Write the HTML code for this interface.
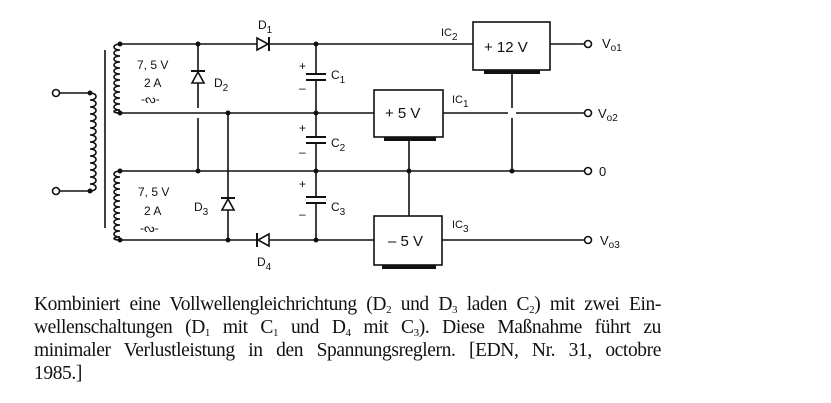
<!DOCTYPE html>
<html><head><meta charset="utf-8"><style>
body{margin:0;background:#fff;width:831px;height:403px;overflow:hidden;position:relative}
svg{position:absolute;left:0;top:0}
.t{font-family:"Liberation Sans",sans-serif;fill:#111}
#cap{position:absolute;left:34px;top:293px;width:627px;font-family:"Liberation Serif",serif;font-size:19.5px;line-height:23px;color:#111;letter-spacing:-0.4px}
#cap div{text-align:justify;text-align-last:justify;white-space:nowrap}
#cap div.l{text-align-last:left}
sub{font-size:11px;vertical-align:-3px;line-height:0}
</style></head><body>
<svg width="831" height="403" viewBox="0 0 831 403">
<g stroke="#111" stroke-width="1.6" fill="none">
<circle cx="56" cy="93" r="3.5"/><circle cx="56" cy="191" r="3.5"/>
<path d="M60 93H90M60 191H90"/>
<path d="M90 93 c8 0 8 7 0 7 c8 0 8 7 0 7 c8 0 8 7 0 7 c8 0 8 7 0 7 c8 0 8 7 0 7 c8 0 8 7 0 7 c8 0 8 7 0 7 c8 0 8 7 0 7 c8 0 8 7 0 7 c8 0 8 7 0 7 c8 0 8 7 0 7 c8 0 8 7 0 7 c8 0 8 7 0 7 c8 0 8 7 0 7"/>
<path d="M105 50V228"/>
<path d="M120 44 c-8 0 -8 6 0 6 c-8 0 -8 6 0 6 c-8 0 -8 6 0 6 c-8 0 -8 6 0 6 c-8 0 -8 6 0 6 c-8 0 -8 6 0 6 c-8 0 -8 6 0 6 c-8 0 -8 6 0 6 c-8 0 -8 6 0 6 c-8 0 -8 6 0 6 c-8 0 -8 6 0 6 c-8 0 -8 3 0 3"/>
<path d="M120 171 c-8 0 -8 6 0 6 c-8 0 -8 6 0 6 c-8 0 -8 6 0 6 c-8 0 -8 6 0 6 c-8 0 -8 6 0 6 c-8 0 -8 6 0 6 c-8 0 -8 6 0 6 c-8 0 -8 6 0 6 c-8 0 -8 6 0 6 c-8 0 -8 6 0 6 c-8 0 -8 6 0 6 c-8 0 -8 3 0 3"/>
<path d="M120 44H258M268 44H473"/>
<path d="M120 113H374M443 113H508M516 113H584"/>
<path d="M120 171H584"/>
<path d="M120 240H258M268 240H374M442 240H584"/>
<path d="M550 44H584"/>
<path d="M198 44V108M198 118V171"/>
<path d="M228 113V240"/>
<path d="M316 44V74M316 80V137M316 143V197M316 203V240"/>
<path d="M306 74H326M306 80H326M306 137H326M306 143H326M306 197H326M306 203H326" stroke-width="2"/>
<rect x="473" y="22" width="77" height="48"/>
<rect x="374" y="90" width="69" height="47"/>
<rect x="374" y="216" width="68" height="49"/>
<path d="M512 74V108M512 118V171"/>
<path d="M409 140V216"/>
<circle cx="588" cy="44" r="3.5"/><circle cx="588" cy="113" r="3.5"/><circle cx="588" cy="171" r="3.5"/><circle cx="588" cy="240" r="3.5"/>
</g>
<g fill="#111">
<rect x="484" y="70" width="56" height="4"/>
<rect x="384" y="137" width="52" height="4"/>
<rect x="382" y="265" width="54" height="4"/>
<path d="M257 38L257 50L268 44Z" fill="#fff" stroke="#111" stroke-width="1.6"/><path d="M269 37V51" stroke="#111" stroke-width="2"/>
<path d="M269 234L269 246L258 240Z" fill="#fff" stroke="#111" stroke-width="1.6"/><path d="M257 233V247" stroke="#111" stroke-width="2"/>
<path d="M192 83L204 83L198 72Z" fill="#fff" stroke="#111" stroke-width="1.6"/><path d="M191 71H205" stroke="#111" stroke-width="2"/>
<path d="M222 210L234 210L228 199Z" fill="#fff" stroke="#111" stroke-width="1.6"/><path d="M221 198H235" stroke="#111" stroke-width="2"/>
<circle cx="120" cy="44" r="2.5"/><circle cx="120" cy="113" r="2.5"/><circle cx="120" cy="171" r="2.5"/><circle cx="120" cy="240" r="2.5"/>
<circle cx="90" cy="93" r="2.5"/><circle cx="90" cy="191" r="2.5"/>
<circle cx="198" cy="44" r="2.5"/><circle cx="198" cy="171" r="2.5"/><circle cx="228" cy="113" r="2.5"/><circle cx="228" cy="240" r="2.5"/>
<circle cx="316" cy="44" r="2.5"/><circle cx="316" cy="113" r="2.5"/><circle cx="316" cy="171" r="2.5"/><circle cx="316" cy="240" r="2.5"/>
<circle cx="409" cy="171" r="2.5"/><circle cx="512" cy="171" r="2.5"/>
</g>
<g class="t" font-size="12">
<text x="137" y="69">7, 5  V</text><text x="144" y="87">2  A</text><text x="141" y="103">-ᔓ-</text>
<text x="138" y="196">7, 5  V</text><text x="144" y="215">2  A</text><text x="140" y="232">-ᔓ-</text>
<text x="258" y="29">D<tspan font-size="10" dy="4">1</tspan></text>
<text x="214" y="87">D<tspan font-size="10" dy="4">2</tspan></text>
<text x="194" y="211">D<tspan font-size="10" dy="4">3</tspan></text>
<text x="257" y="266">D<tspan font-size="10" dy="4">4</tspan></text>
<text x="331" y="79">C<tspan font-size="10" dy="4">1</tspan></text>
<text x="331" y="147">C<tspan font-size="10" dy="4">2</tspan></text>
<text x="331" y="211">C<tspan font-size="10" dy="4">3</tspan></text>
<text x="299" y="70">+</text><text x="299" y="92">–</text>
<text x="299" y="132">+</text><text x="299" y="156">–</text>
<text x="299" y="188">+</text><text x="299" y="218">–</text>
<text x="441" y="36" font-size="11">IC<tspan font-size="10" dy="4">2</tspan></text>
<text x="452" y="103" font-size="11">IC<tspan font-size="10" dy="4">1</tspan></text>
<text x="452" y="228" font-size="11">IC<tspan font-size="10" dy="4">3</tspan></text>
<text x="602" y="48" font-size="13">V<tspan font-size="10" dy="3">o1</tspan></text>
<text x="598" y="118" font-size="13">V<tspan font-size="10" dy="3">o2</tspan></text>
<text x="599" y="176" font-size="13">0</text>
<text x="600" y="245" font-size="13">V<tspan font-size="10" dy="3">o3</tspan></text>
<text x="484" y="52" font-size="15">+ 12 V</text>
<text x="385" y="118" font-size="15">+ 5 V</text>
<text x="388" y="246" font-size="15">– 5 V</text>
</g>
</svg>
<div id="cap">
<div>Kombiniert eine Vollwellengleichrichtung (D<sub>2</sub> und D<sub>3</sub> laden C<sub>2</sub>) mit zwei Ein-</div>
<div>wellenschaltungen (D<sub>1</sub> mit C<sub>1</sub> und D<sub>4</sub> mit C<sub>3</sub>). Diese Maßnahme führt zu</div>
<div>minimaler Verlustleistung in den Spannungsreglern. [EDN, Nr. 31, octobre</div>
<div class="l">1985.]</div>
</div>
</body></html>
